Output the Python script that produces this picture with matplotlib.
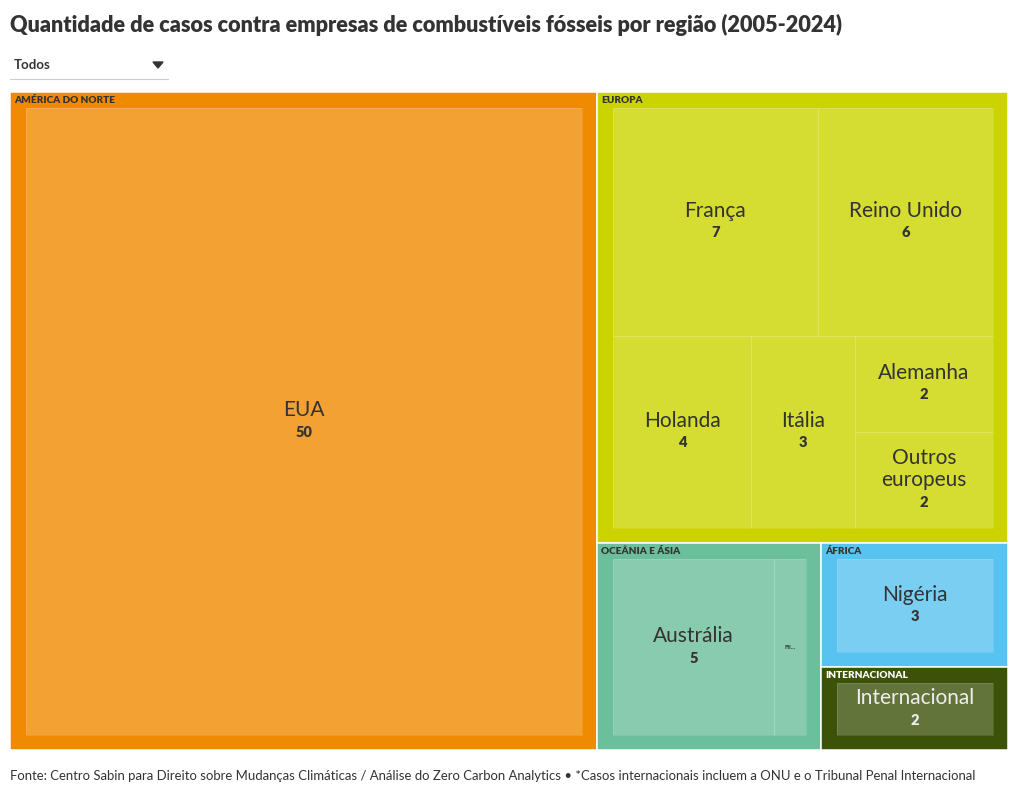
import matplotlib
matplotlib.use("Agg")
import matplotlib.pyplot as plt
from matplotlib.patches import Rectangle, Polygon

# data
regions = ["AMÉRICA DO NORTE", "EUROPA", "OCEÂNIA E ÁSIA", "ÁFRICA", "INTERNACIONAL"]
region_colors = ["#f08a00", "#cbd400", "#6bbf9a", "#58c3f0", "#3b5208"]
header_colors = ["#333333", "#333333", "#333333", "#333333", "#ffffff"]
leaf_text_colors = ["#333333", "#333333", "#333333", "#333333", "#eeeeee"]

na_names = ["EUA"]
na_values = [50]
eu_names = ["França", "Reino Unido", "Holanda", "Itália", "Alemanha", "Outros\neuropeus"]
eu_values = [7, 6, 4, 3, 2, 2]
oc_names = ["Austrália", "Filipinas"]
oc_values = [5, 1]
af_names = ["Nigéria"]
af_values = [3]
int_names = ["Internacional"]
int_values = [2]

children = [(na_names, na_values), (eu_names, eu_values), (oc_names, oc_values),
            (af_names, af_values), (int_names, int_values)]

title = "Quantidade de casos contra empresas de combustíveis fósseis por região (2005-2024)"
footer = ("Fonte: Centro Sabin para Direito sobre Mudanças Climáticas / Análise do Zero Carbon "
          "Analytics \u2022 *Casos internacionais incluem a ONU e o Tribunal Penal Internacional")

FONT = ["Lato", "DejaVu Sans"]
plt.rcParams['font.family'] = FONT


def worst(row, short):
    s = sum(row)
    return max(max(short ** 2 * r / s ** 2, s ** 2 / (short ** 2 * r)) for r in row)


def squarify(vals, x, y, w, h):
    # squarified treemap, vals sorted descending
    total = float(sum(vals))
    areas = [v * w * h / total for v in vals]
    rects = []
    while areas:
        short = min(w, h)
        row = [areas[0]]
        i = 1
        while i < len(areas) and worst(row + [areas[i]], short) <= worst(row, short):
            row.append(areas[i])
            i += 1
        s = sum(row)
        if w >= h:
            cw = s / h
            yy = y
            for a in row:
                rects.append((x, yy, cw, a / cw))
                yy += a / cw
            x += cw
            w -= cw
        else:
            rh = s / w
            xx = x
            for a in row:
                rects.append((xx, y, a / rh, rh))
                xx += a / rh
            y += rh
            h -= rh
        areas = areas[i:]
    return rects


fig = plt.figure(figsize=(10.2, 7.95), dpi=100)
ax = fig.add_axes([0, 0, 1, 1])
ax.set_xlim(0, 1020)
ax.set_ylim(795, 0)
ax.axis("off")

# title + dropdown
ax.text(10, 25, title, fontsize=15.6, fontweight="heavy", color="#333333", va="center", ha="left")
ax.text(14, 65, "Todos", fontsize=9.5, fontweight="bold", color="#333333", va="center", ha="left")
ax.add_patch(Polygon([[153, 62], [163, 62], [158, 68]], closed=True, color="#333333"))
ax.plot([10, 168], [78.5, 78.5], color="#cccccc", lw=0.8)

# treemap
group_totals = [sum(v) for _, v in children]
group_rects = squarify(group_totals, 10, 92, 998, 658)

for gi, (gx, gy, gw, gh) in enumerate(group_rects):
    ax.add_patch(Rectangle((gx, gy), gw, gh, facecolor=region_colors[gi],
                           edgecolor="white", lw=1.1, zorder=1))
    ax.text(gx + 4, gy + 8.5, regions[gi], fontsize=7.2, fontweight="heavy",
            color=header_colors[gi], va="center", ha="left", zorder=4)
    names, vals = children[gi]
    leaf_rects = squarify(vals, gx + 16, gy + 16, gw - 31, gh - 31)
    for li, (lx, ly, lw_, lh) in enumerate(leaf_rects):
        ax.add_patch(Rectangle((lx, ly), lw_, lh, facecolor="white", alpha=0.2,
                               edgecolor="none", zorder=2))
        ax.add_patch(Rectangle((lx, ly), lw_, lh, facecolor="none",
                               edgecolor=(1, 1, 1, 0.15), lw=0.6, zorder=3))
        cx = lx + lw_ / 2
        cy = ly + lh / 2
        tc = leaf_text_colors[gi]
        if lw_ < 50:
            ax.text(cx, cy, names[li][:3] + "...", fontsize=4.5, fontweight="bold",
                    color=tc, va="center", ha="center", zorder=4)
            continue
        lines = names[li].split("\n")
        n = len(lines) + 1
        top = cy - (n - 1) * 22 / 2
        for k, line in enumerate(lines):
            ax.text(cx, top + k * 22, line, fontsize=15, color=tc,
                    va="center", ha="center", zorder=4)
        ax.text(cx, top + len(lines) * 22, str(vals[li]), fontsize=10.5, fontweight="heavy",
                color=tc, va="center", ha="center", zorder=4)

ax.text(10, 776, footer, fontsize=9.42, color="#333333", va="center", ha="left")

fig.savefig("out.png", dpi=100)
